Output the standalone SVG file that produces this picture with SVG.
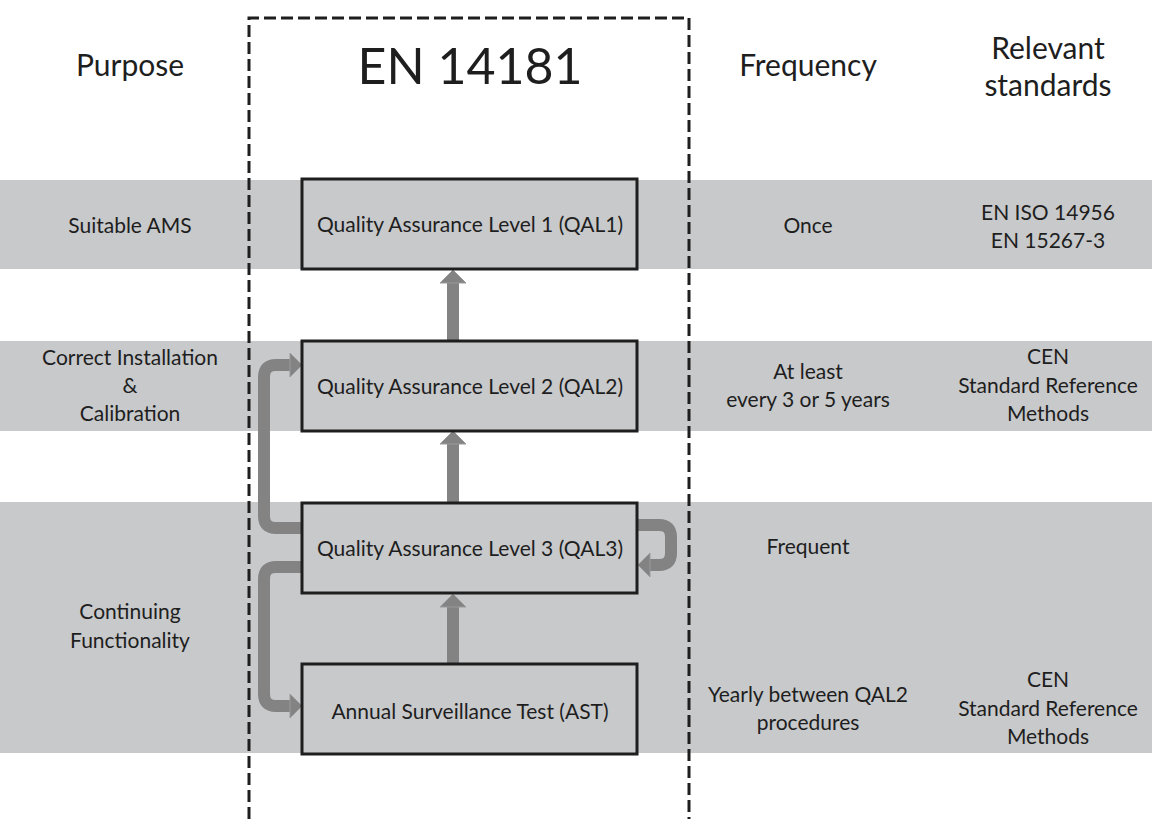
<svg xmlns="http://www.w3.org/2000/svg" width="1152" height="819" viewBox="0 0 1152 819">
<style>
.band{fill:#c8c9cb}
.box{fill:#c8c9cb;stroke:#1e1e1e;stroke-width:3}
.t{font-family:Lato,"Open Sans",sans-serif;font-size:21px;fill:#1e1e1e;text-anchor:middle}
.h{font-family:Lato,"Open Sans",sans-serif;font-size:30px;fill:#1e1e1e;text-anchor:middle}
.big{font-family:Lato,"Open Sans",sans-serif;font-size:50px;fill:#1e1e1e;text-anchor:middle}
.shaft{fill:none;stroke:#838383;stroke-width:12}
.head{fill:#838383;stroke:#9a9a9a;stroke-width:1}
</style>
<rect width="1152" height="819" fill="#ffffff"/>
<g id="bands">
<rect class="band" x="0" y="180" width="1152" height="89"/>
<rect class="band" x="0" y="341" width="1152" height="90"/>
<rect class="band" x="0" y="502" width="1152" height="251"/>
</g>
<g id="frame">
<path d="M249,819 V18 H689 V819" fill="none" stroke="#1e1e1e" stroke-width="3" stroke-dasharray="12,5"/>
</g>
<g id="headers">
<text class="h" x="130" y="76">Purpose</text>
<text class="big" x="470" y="84">EN 14181</text>
<text class="h" x="808" y="76">Frequency</text>
<text class="h" x="1048" y="59">Relevant</text>
<text class="h" x="1048" y="96">standards</text>
</g>
<g id="connectors">
<path class="shaft" d="M453,341 V283"/>
<polygon class="head" points="440,283 453,270 466,283"/>
<path class="shaft" d="M453,502 V444"/>
<polygon class="head" points="440,444 453,431 466,444"/>
<path class="shaft" d="M453,664 V607"/>
<polygon class="head" points="440,607 453,594 466,607"/>
<path class="shaft" d="M302,528 H276 Q264,528 264,516 V377 Q264,365 276,365 H291"/>
<polygon class="head" points="290,353 302,365 290,377"/>
<path class="shaft" d="M302,567 H276 Q264,567 264,579 V694 Q264,706 276,706 H291"/>
<polygon class="head" points="290,694 302,706 290,718"/>
<path class="shaft" d="M637,525 H659 Q671,525 671,537 V553 Q671,565 659,565 H649"/>
<polygon class="head" points="650,553 638,565 650,577"/>
</g>
<g id="qal1">
<rect class="box" x="302" y="179" width="335" height="90"/>
<text class="t" x="470" y="232">Quality Assurance Level 1 (QAL1)</text>
</g>
<g id="qal2">
<rect class="box" x="302" y="341" width="335" height="90"/>
<text class="t" x="470" y="394">Quality Assurance Level 2 (QAL2)</text>
</g>
<g id="qal3">
<rect class="box" x="302" y="503" width="335" height="90"/>
<text class="t" x="470" y="556">Quality Assurance Level 3 (QAL3)</text>
</g>
<g id="ast">
<rect class="box" x="302" y="664" width="335" height="90"/>
<text class="t" x="470" y="719">Annual Surveillance Test (AST)</text>
</g>
<g id="purpose">
<text class="t" x="130" y="233">Suitable AMS</text>
<text class="t" x="130" y="365">Correct Installation</text>
<text class="t" x="130" y="393">&amp;</text>
<text class="t" x="130" y="421">Calibration</text>
<text class="t" x="130" y="619">Continuing</text>
<text class="t" x="130" y="648">Functionality</text>
</g>
<g id="frequency">
<text class="t" x="808" y="233">Once</text>
<text class="t" x="808" y="379">At least</text>
<text class="t" x="808" y="407">every 3 or 5 years</text>
<text class="t" x="808" y="554">Frequent</text>
<text class="t" x="808" y="702">Yearly between QAL2</text>
<text class="t" x="808" y="730">procedures</text>
</g>
<g id="standards">
<text class="t" x="1048" y="220">EN ISO 14956</text>
<text class="t" x="1048" y="248">EN 15267-3</text>
<text class="t" x="1048" y="364">CEN</text>
<text class="t" x="1048" y="393">Standard Reference</text>
<text class="t" x="1048" y="421">Methods</text>
<text class="t" x="1048" y="687">CEN</text>
<text class="t" x="1048" y="716">Standard Reference</text>
<text class="t" x="1048" y="744">Methods</text>
</g>
</svg>
